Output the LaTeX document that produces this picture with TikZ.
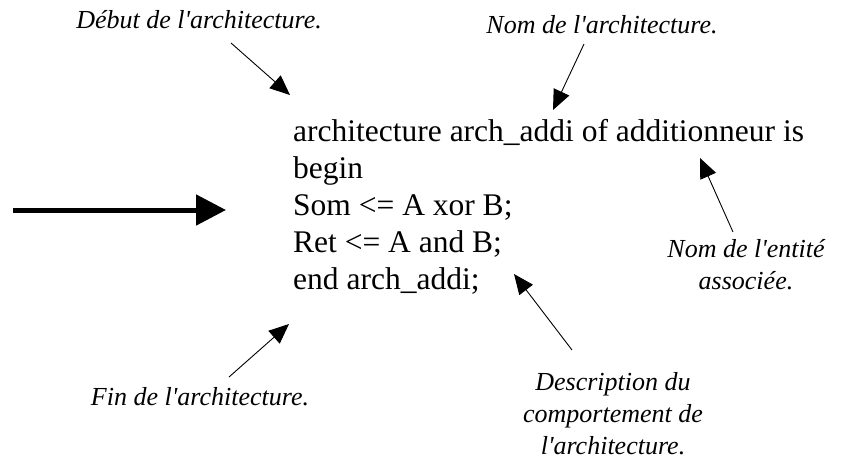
\documentclass[tikz,border=0pt]{standalone}
\usepackage{fontspec}
\setmainfont{Liberation Serif}
\usetikzlibrary{arrows.meta, positioning}
\definecolor{mainBlack}{gray}{0}
\newcommand{\apos}{\textquotesingle}

\begin{document}
\begin{tikzpicture}[x=1pt, y=-1pt,
    code/.style={anchor=base west, inner sep=0pt, font=\fontsize{31.5}{37}\selectfont},
    note/.style={inner sep=0pt, align=center, font=\fontsize{26}{32}\selectfont\itshape},
    pointer/.style={-{Triangle[length=20pt, width=17pt]}, line width=0.9pt, mainBlack},
    bigarrow/.style={-{Triangle[length=30pt, width=30pt]}, line width=5pt, mainBlack}]
        \useasboundingbox (0,0) rectangle (845,459);

        % コード本体
        \node[code] (L1) at (293,141) {architecture arch\_addi of additionneur is};
        \node[code] (L2) at (293,178) {begin};
        \node[code] (L3) at (293,215) {Som <= A xor B;};
        \node[code] (L4) at (293,252) {Ret <= A and B;};
        \node[code] (L5) at (293,289) {end arch\_addi;};

        % 説明
        \node[note, anchor=base] (D) at (199,28) {Début de l\apos architecture.};
        \node[note, anchor=base] (N) at (602,33) {Nom de l\apos architecture.};
        \node[note, anchor=north] (E) at (746,239) {Nom de l\apos entité\\associée.};
        \node[note, anchor=north] (C) at (613,372) {Description du\\comportement de\\l\apos architecture.};
        \node[note, anchor=base] (F) at (200,405) {Fin de l\apos architecture.};

        % 矢印の端点
        \coordinate (Ds) at (231,43);  \coordinate (De) at (290,95);
        \coordinate (Ns) at (584,44);  \coordinate (Ne) at (553,110);
        \coordinate (Es) at (733,232); \coordinate (Ee) at (700,158);
        \coordinate (Cs) at (572,350); \coordinate (Ce) at (514,274);
        \coordinate (Fs) at (229,377); \coordinate (Fe) at (289,324);
        \coordinate (Bs) at (13,210);  \coordinate (Be) at (226,210);

        \draw[pointer] (Ds) -- (De);
        \draw[pointer] (Ns) -- (Ne);
        \draw[pointer] (Es) -- (Ee);
        \draw[pointer] (Cs) -- (Ce);
        \draw[pointer] (Fs) -- (Fe);

        % 左の太い矢印
        \draw[bigarrow] (Bs) -- (Be);
    \end{tikzpicture}
\end{document}
